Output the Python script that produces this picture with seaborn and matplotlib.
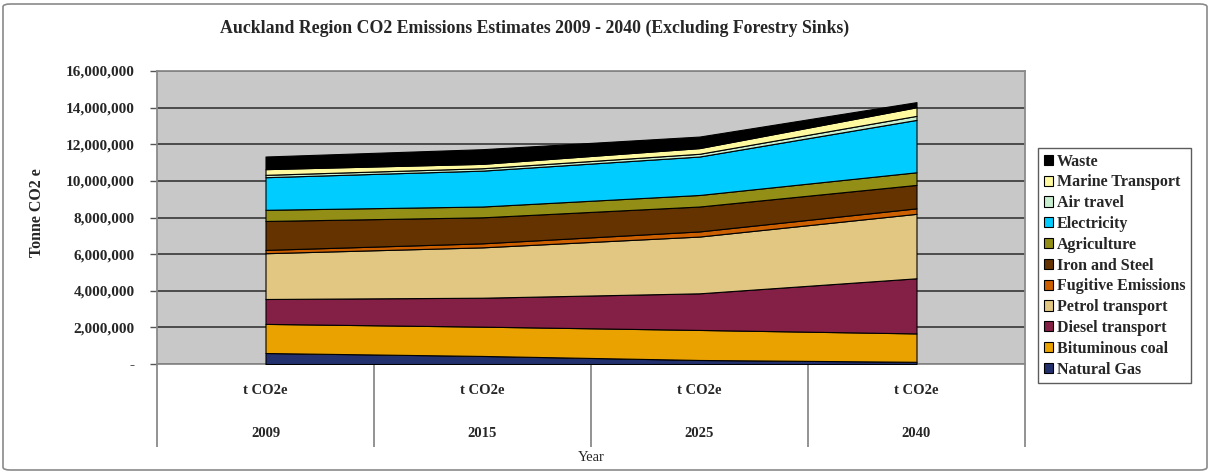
import matplotlib
matplotlib.use("Agg")
import matplotlib.pyplot as plt
from matplotlib.patches import FancyBboxPatch, Patch
from matplotlib.ticker import FuncFormatter, MultipleLocator
import matplotlib.transforms as mtransforms
import seaborn as sns

sns.set_style("white")
plt.rcParams["font.family"] = ["Liberation Serif", "DejaVu Serif"]
plt.rcParams["font.weight"] = "bold"

# Emission estimates, tonnes CO2e
years = ["2009", "2015", "2025", "2040"]
unit_label = "t CO2e"
sectors = ["Natural Gas", "Bituminous coal", "Diesel transport", "Petrol transport",
           "Fugitive Emissions", "Iron and Steel", "Agriculture", "Electricity",
           "Air travel", "Marine Transport", "Waste"]
natural_gas = [600000, 440000, 220000, 120000]
bituminous_coal = [1590000, 1600000, 1640000, 1550000]
diesel_transport = [1360000, 1580000, 2000000, 3010000]
petrol_transport = [2500000, 2750000, 3100000, 3520000]
fugitive_emissions = [180000, 220000, 280000, 300000]
iron_and_steel = [1580000, 1420000, 1360000, 1280000]
agriculture = [610000, 590000, 630000, 690000]
electricity = [1780000, 1960000, 2100000, 2860000]
air_travel = [130000, 130000, 150000, 220000]
marine_transport = [310000, 240000, 310000, 470000]
waste = [690000, 800000, 630000, 280000]

series = [natural_gas, bituminous_coal, diesel_transport, petrol_transport,
          fugitive_emissions, iron_and_steel, agriculture, electricity,
          air_travel, marine_transport, waste]
colors = ["#22306E", "#EAA200", "#842045", "#E1C782", "#CC5F00", "#643300",
          "#938F16", "#00CCFF", "#C8F0D0", "#FFFAA0", "#000000"]

W, H = 1211, 473
fig = plt.figure(figsize=(W / 100, H / 100), dpi=100)
fig.patch.set_facecolor("white")

# outer chart frame
fig.patches.append(FancyBboxPatch((3 / W, 3 / H), 1 - 7 / W, 1 - 7 / H,
                                  boxstyle="round,pad=0,rounding_size=0.006",
                                  transform=fig.transFigure, facecolor="none",
                                  edgecolor="#8a8a8a", linewidth=1.2))

L, R, T, B = 157, 1025, 71, 364
ax = fig.add_axes([L / W, 1 - B / H, (R - L) / W, (B - T) / H])
ax.set_facecolor("#C8C8C8")

x = list(range(len(years)))
ax.stackplot(x, *series, colors=colors, edgecolor="black", linewidth=0.8, zorder=3)

ax.set_xlim(-0.5, len(years) - 0.5)
ax.set_ylim(0, 16000000)
ax.yaxis.set_major_locator(MultipleLocator(2000000))
ax.yaxis.set_major_formatter(FuncFormatter(lambda v, p: "-" if v == 0 else f"{v:,.0f}"))
ax.grid(axis="y", color="#2a2a2a", linewidth=1.1, zorder=1)
ax.set_axisbelow(True)
for side in ["top", "right", "left", "bottom"]:
    ax.spines[side].set_color("#8a8a8a")
    ax.spines[side].set_linewidth(1.3)
ax.tick_params(axis="y", direction="out", length=5, width=1, color="#555555",
               labelsize=11, pad=11, left=True)
for lab in ax.get_yticklabels():
    lab.set_fontweight("bold")

# category axis: boundary lines and two label rows
ax.set_xticks([i - 0.5 for i in range(len(years) + 1)])
ax.set_xticklabels([])
ax.tick_params(axis="x", direction="out", length=60, width=1.3, color="#8a8a8a", bottom=True)
trans = mtransforms.blended_transform_factory(ax.transData, ax.transAxes)
for i, yr in enumerate(years):
    ax.text(i, -26 / (B - T), unit_label, transform=trans, ha="center", va="center",
            fontsize=10.5, fontweight="bold")
    ax.text(i, -69 / (B - T), yr, transform=trans, ha="center", va="center",
            fontsize=10.5, fontweight="bold")

fig.text(591 / W, 1 - 457 / H, "Year", ha="center", va="center", fontsize=10.5,
         fontweight="normal")
fig.text(37 / W, 1 - 213 / H, "Tonne CO2 e", ha="center", va="center", rotation=90,
         fontsize=11.5, fontweight="bold")
fig.text(535 / W, 1 - 28 / H,
         "Auckland Region CO2 Emissions Estimates 2009 - 2040 (Excluding Forestry Sinks)",
         ha="center", va="center", fontsize=12.8, fontweight="bold")

handles = [Patch(facecolor=c, edgecolor="black", linewidth=0.8, label=s)
           for s, c in zip(sectors, colors)][::-1]
leg = fig.legend(handles=handles, loc="upper left",
                 bbox_to_anchor=(1038 / W, 1 - 148 / H), frameon=True,
                 prop={"size": 11.5, "weight": "bold"}, handlelength=0.6,
                 handleheight=0.6, handletextpad=0.25, labelspacing=0.3,
                 borderpad=0.35, borderaxespad=0, fancybox=False)
leg.get_frame().set_edgecolor("#333333")
leg.get_frame().set_linewidth(1.0)

fig.savefig("out.png", dpi=100)
